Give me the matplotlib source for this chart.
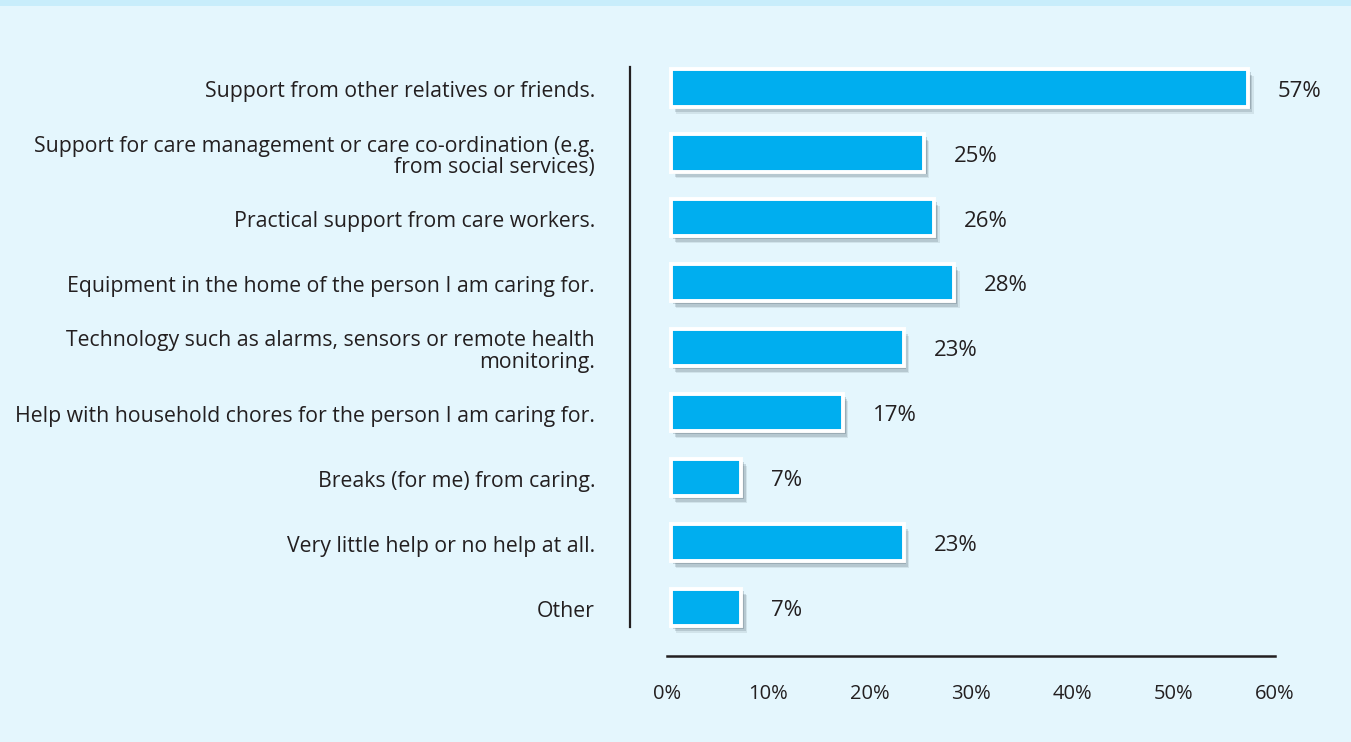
import matplotlib
matplotlib.use("Agg")
import matplotlib.pyplot as plt
import matplotlib.patheffects as pe
from matplotlib.patches import Rectangle
from matplotlib.lines import Line2D

categories = [
    "Support from other relatives or friends.",
    "Support for care management or care co-ordination (e.g.\nfrom social services)",
    "Practical support from care workers.",
    "Equipment in the home of the person I am caring for.",
    "Technology such as alarms, sensors or remote health\nmonitoring.",
    "Help with household chores for the person I am caring for.",
    "Breaks (for me) from caring.",
    "Very little help or no help at all.",
    "Other",
]
values = [57, 25, 26, 28, 23, 17, 7, 23, 7]
xticks = [0, 10, 20, 30, 40, 50, 60]
xtick_labels = ["0%", "10%", "20%", "30%", "40%", "50%", "60%"]

plt.rcParams['font.family'] = ['Open Sans', 'DejaVu Sans']
TEXT = '#231f20'
BG = '#e4f6fd'

W, H = 1351, 742
fig = plt.figure(figsize=(W / 100, H / 100), dpi=100, facecolor=BG)
fig.patches.append(Rectangle((0, 1 - 6 / H), 1, 6 / H, transform=fig.transFigure,
                             facecolor='#c8edfb', edgecolor='none', zorder=0))

# axes spans pixel x 667..1275, y 60..656
ax = fig.add_axes([667 / W, 1 - 656 / H, 608 / W, 596 / H])
ax.set_facecolor('none')
ax.set_xlim(0, 60)
ax.set_ylim(8.752, -0.431)

ypos = list(range(len(values)))
shadow = [pe.SimplePatchShadow(offset=(4, -5), shadow_rgbFace='#2f3f4a', alpha=0.10),
          pe.SimplePatchShadow(offset=(3, -4), shadow_rgbFace='#2f3f4a', alpha=0.16),
          pe.SimplePatchShadow(offset=(2, -2), shadow_rgbFace='#2f3f4a', alpha=0.20),
          pe.Normal()]
bars = ax.barh(ypos, values, height=0.575, left=0.35, color='#00aeef',
               edgecolor='white', linewidth=2.8, zorder=3)
for b in bars:
    b.set_path_effects(shadow)

for y, v in zip(ypos, values):
    ax.text(v + 3.3, y + 0.05, f"{v}%", va='center', ha='left', fontsize=16,
            color=TEXT)

ax.set_yticks([])
ax.set_xticks(xticks)
ax.set_xticklabels(xtick_labels, fontsize=14.5, color=TEXT)
ax.tick_params(axis='x', length=0, pad=20)
for s in ['top', 'right', 'left']:
    ax.spines[s].set_visible(False)
ax.spines['bottom'].set_linewidth(1.8)
ax.spines['bottom'].set_color(TEXT)

# category labels, right aligned
for y, c in zip(ypos, categories):
    ax.text(-7.1, y + 0.06, c, ha='right', va='center', fontsize=15.3, color=TEXT,
            linespacing=1.02, multialignment='right')

# vertical separator line
fig.add_artist(Line2D([630 / W, 630 / W], [1 - 67 / H, 1 - 627 / H],
                      transform=fig.transFigure, color=TEXT, linewidth=1.6))

fig.savefig("out.png", dpi=100, facecolor=BG)
